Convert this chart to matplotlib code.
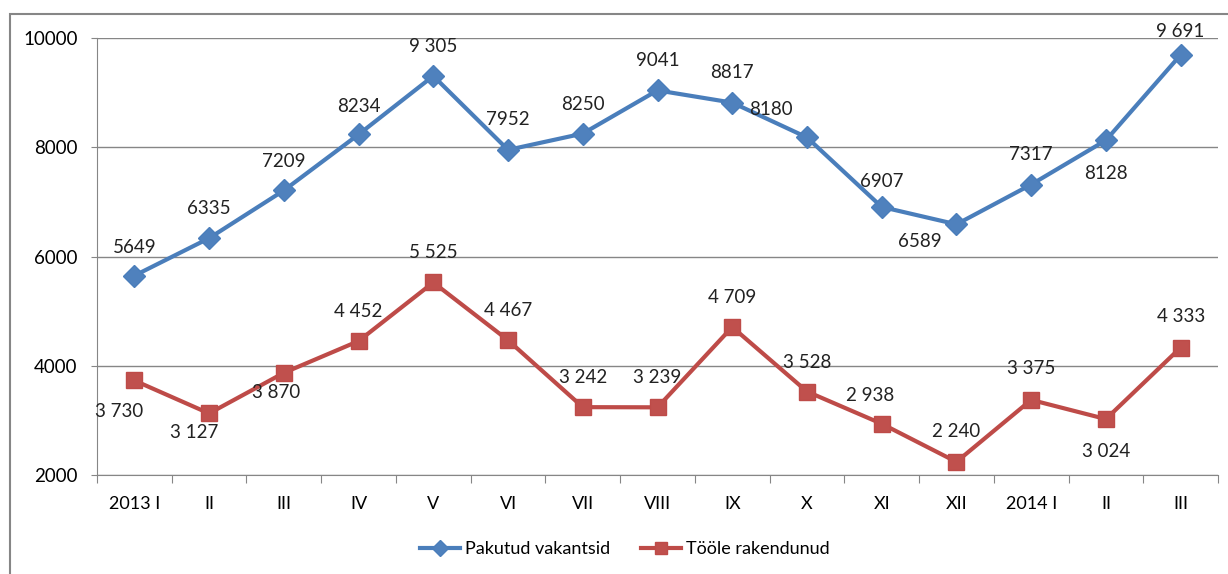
import matplotlib.pyplot as plt
from matplotlib.patches import Rectangle

plt.rcParams['font.family'] = ['Lato', 'DejaVu Sans']

months = ["2013 I", "II", "III", "IV", "V", "VI", "VII", "VIII", "IX", "X",
          "XI", "XII", "2014 I", "II", "III"]
vacancies = [5649, 6335, 7209, 8234, 9305, 7952, 8250, 9041, 8817, 8180,
             6907, 6589, 7317, 8128, 9691]
employed = [3730, 3127, 3870, 4452, 5525, 4467, 3242, 3239, 4709, 3528,
            2938, 2240, 3375, 3024, 4333]
vacancy_labels = ["5649", "6335", "7209", "8234", "9 305", "7952", "8250", "9041",
                  "8817", "8180", "6907", "6589", "7317", "8128", "9 691"]
employed_labels = ["3 730", "3 127", "3 870", "4 452", "5 525", "4 467", "3 242",
                   "3 239", "4 709", "3 528", "2 938", "2 240", "3 375", "3 024", "4 333"]

# label offsets in pixels (dx, dy), dy positive = up
vac_off = [(0, 28), (0, 30), (0, 29), (0, 28), (0, 29), (0, 30), (0, 29), (0, 30),
           (0, 30), (-36, 28), (0, 25), (-37, -17), (0, 30), (0, -33), (0, 23)]
emp_off = [(-15, -31), (-15, -19), (-8, -20), (0, 30), (0, 30), (0, 30), (0, 30),
           (0, 30), (0, 30), (0, 29), (-12, 28), (0, 30), (0, 31), (0, -32), (0, 31)]

blue = '#4a7ebb'
red = '#be4b48'
grid_col = '#868686'

fig = plt.figure(figsize=(12.28, 5.74), dpi=100)
ax = fig.add_axes([97 / 1228, 1 - 475 / 574, 1121 / 1228, 437 / 574])

# outer chart frame
fig.patches.append(Rectangle((10 / 1228, -0.1), 1.2, 1 - 14 / 574 + 0.1,
                             transform=fig.transFigure, fill=False,
                             edgecolor=grid_col, linewidth=1.5))

x = list(range(len(months)))
ax.plot(x, vacancies, color=blue, linewidth=3, marker='D', markersize=11,
        markerfacecolor='#4f81bd', markeredgecolor=blue, label='Pakutud vakantsid')
ax.plot(x, employed, color=red, linewidth=3, marker='s', markersize=12,
        markerfacecolor='#c0504d', markeredgecolor=red, label='Tööle rakendunud')

for i in x:
    dx, dy = vac_off[i]
    ax.annotate(vacancy_labels[i], (i, vacancies[i]), xytext=(dx * 0.72, dy * 0.72),
                textcoords='offset points', ha='center', va='center', fontsize=13.5,
                color='#222222')
    dx, dy = emp_off[i]
    ax.annotate(employed_labels[i], (i, employed[i]), xytext=(dx * 0.72, dy * 0.72),
                textcoords='offset points', ha='center', va='center', fontsize=13.5,
                color='#222222')

ax.set_xlim(-0.5, len(months) - 0.5)
ax.set_ylim(2000, 10000)
ax.set_yticks([2000, 4000, 6000, 8000, 10000])
ax.yaxis.grid(True, color=grid_col, linewidth=1)
ax.set_axisbelow(True)

ax.set_xticks([i - 0.5 for i in range(len(months) + 1)])
ax.set_xticklabels([])
ax.set_xticks(x, minor=True)
ax.set_xticklabels(months, minor=True)
ax.tick_params(axis='x', which='major', length=6, color=grid_col, direction='out')
ax.tick_params(axis='x', which='minor', length=0, pad=15, labelsize=13)
ax.tick_params(axis='y', length=4, color=grid_col, pad=10, labelsize=13.5)

for s in ['top', 'right']:
    ax.spines[s].set_visible(False)
for s in ['left', 'bottom']:
    ax.spines[s].set_color(grid_col)

ax.legend(loc='center', bbox_to_anchor=(625 / 1228, 25 / 574),
          bbox_transform=fig.transFigure, ncol=2, frameon=False, fontsize=13,
          handlelength=2.2, handletextpad=0.3, columnspacing=1.7, markerscale=0.75)

fig.savefig('out.png', dpi=100)
